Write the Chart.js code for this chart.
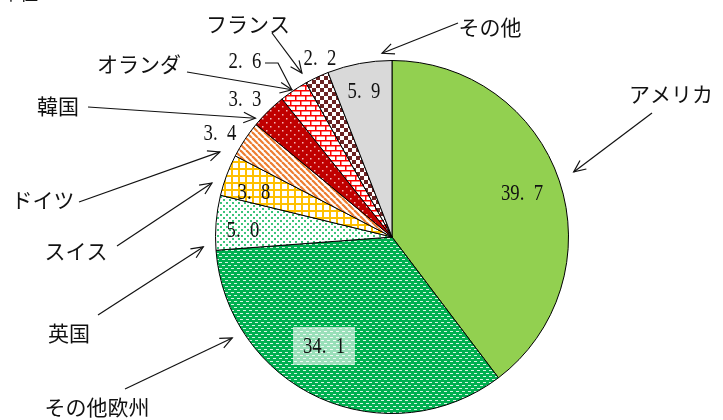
<!DOCTYPE html>
<html lang="ja">
<head>
<meta charset="utf-8">
<script src="https://cdn.jsdelivr.net/npm/chart.js@4/dist/chart.umd.min.js"></script>
<style>
  html, body { margin: 0; padding: 0; background: #fff; }
  canvas { display: block; }
</style>
</head>
<body>
<canvas id="grafico" width="723" height="420"></canvas>
<script>
// データ（％）
const categorias = ["アメリカ", "その他欧州", "英国", "スイス", "ドイツ", "韓国", "オランダ", "フランス", "その他"];
const valores = [39.7, 34.1, 5.0, 3.8, 3.4, 3.3, 2.6, 2.2, 5.9];
const unidad = "単位：％";

// ラベル配置（円の中心からの位置）
const posValor = [[130, -44], [-68, 109], [-149, -7], [-138, -45], [-172, -104], [-147, -138], [-147, -176], [-72, -179], [-28, -146]];
const posNombre = [[671, 94], [97, 407], [69, 333], [76, 251], [43, 200], [58, 106], [139, 64], [248, 24], [490, 27]];
const colaFlecha = [[652, 113], [125, 389], [98, 315], [117, 246], [79, 202], [88, 107], [187, 72], [272, 33], [458, 23]];
// 矢印の先（角度°, 中心からの距離）
const puntaFlecha = [[-19.7, 193], [147.7, 189], [177, 189], [196.7, 188], [206.3, 192], [221, 181], [235.8, 178], [241.2, 187], [266.9, 184]];

function tile(w, h, dibujar) {
  const c = document.createElement("canvas");
  c.width = w; c.height = h;
  const ctx = c.getContext("2d");
  dibujar(ctx);
  return document.getElementById("grafico").getContext("2d").createPattern(c, "repeat");
}

const patrones = [
  "#92D050",
  tile(6, 6, ctx => { // verde con guiones
    ctx.fillStyle = "#00B050"; ctx.fillRect(0, 0, 6, 6);
    ctx.fillStyle = "rgba(255,255,255,0.85)";
    ctx.fillRect(0, 1, 3, 1); ctx.fillRect(3, 4, 3, 1);
  }),
  tile(6, 6, ctx => { // puntos verdes
    ctx.fillStyle = "#fff"; ctx.fillRect(0, 0, 6, 6);
    ctx.fillStyle = "#3CC47A";
    ctx.fillRect(1, 1, 2, 2); ctx.fillRect(4, 4, 2, 2);
  }),
  tile(7, 7, ctx => { // cuadrícula amarilla
    ctx.fillStyle = "#fff"; ctx.fillRect(0, 0, 7, 7);
    ctx.fillStyle = "#FFC000";
    ctx.fillRect(0, 0, 7, 2); ctx.fillRect(0, 0, 2, 7);
  }),
  tile(6, 6, ctx => { // rayas naranjas
    ctx.fillStyle = "#fff"; ctx.fillRect(0, 0, 6, 6);
    ctx.strokeStyle = "#ED7D31"; ctx.lineWidth = 2.2;
    for (let k = -6; k <= 12; k += 6) {
      ctx.beginPath(); ctx.moveTo(k, 0); ctx.lineTo(k + 6, 6); ctx.stroke();
    }
  }),
  tile(8, 8, ctx => { // rojo con puntos
    ctx.fillStyle = "#C00000"; ctx.fillRect(0, 0, 8, 8);
    ctx.fillStyle = "#F4B8B8";
    ctx.fillRect(2, 2, 1.5, 1.5); ctx.fillRect(6, 6, 1.5, 1.5);
  }),
  tile(10, 10, ctx => { // ladrillos
    ctx.fillStyle = "#fff"; ctx.fillRect(0, 0, 10, 10);
    ctx.fillStyle = "#FF0000";
    ctx.fillRect(0, 0, 10, 1.5); ctx.fillRect(0, 5, 10, 1.5);
    ctx.fillRect(0, 0, 1.5, 5); ctx.fillRect(5, 5, 1.5, 5);
  }),
  tile(8, 8, ctx => { // cuadros marrones
    ctx.fillStyle = "#fff"; ctx.fillRect(0, 0, 8, 8);
    ctx.fillStyle = "#6A2323";
    ctx.fillRect(0, 0, 4, 4); ctx.fillRect(4, 4, 4, 4);
  }),
  "#D9D9D9"
];

// 明朝風の数字（縦長）: 39.7 -> "39. 7"
function formato(v) {
  return v.toFixed(1).replace(".", ".\u2002");
}

function flecha(ctx, x0, y0, x1, y1) {
  ctx.beginPath(); ctx.moveTo(x0, y0); ctx.lineTo(x1, y1); ctx.stroke();
  const a = Math.atan2(y1 - y0, x1 - x0);
  const L = 13, ab = 0.42;
  ctx.beginPath();
  ctx.moveTo(x1 - L * Math.cos(a - ab), y1 - L * Math.sin(a - ab));
  ctx.lineTo(x1, y1);
  ctx.lineTo(x1 - L * Math.cos(a + ab), y1 - L * Math.sin(a + ab));
  ctx.stroke();
}

const etiquetas = {
  id: "etiquetas",
  afterDatasetsDraw(chart) {
    const ctx = chart.ctx;
    const arcs = chart.getDatasetMeta(0).data;
    const cx = arcs[0].x, cy = arcs[0].y;
    ctx.save();
    ctx.textAlign = "center";
    ctx.textBaseline = "middle";

    // valores
    ctx.font = '24px "Liberation Serif", serif';
    valores.forEach((v, i) => {
      const x = cx + posValor[i][0], y = cy + posValor[i][1];
      if (i === 1) {
        ctx.fillStyle = "rgba(255,255,255,0.6)";
        ctx.fillRect(x - 31, y - 19, 62, 38);
      }
      ctx.fillStyle = "#111";
      ctx.save();
      ctx.translate(x, y + 1);
      ctx.scale(0.78, 1);
      ctx.fillText(formato(v), 0, 0);
      ctx.restore();
    });

    // nombres y flechas
    ctx.strokeStyle = "#111";
    ctx.lineWidth = 1.2;
    ctx.font = '21px "Noto Sans CJK JP", sans-serif';
    categorias.forEach((c, i) => {
      ctx.fillStyle = "#111";
      ctx.fillText(c, posNombre[i][0], posNombre[i][1]);
      const ang = puntaFlecha[i][0] * Math.PI / 180;
      const tx = cx + puntaFlecha[i][1] * Math.cos(ang);
      const ty = cy + puntaFlecha[i][1] * Math.sin(ang);
      flecha(ctx, colaFlecha[i][0], colaFlecha[i][1], tx, ty);
    });

    // línea guía de 2.6
    const a26 = cx + posValor[6][0], b26 = cy + posValor[6][1];
    ctx.beginPath();
    ctx.moveTo(a26 + 20, b26 + 2);
    ctx.lineTo(a26 + 33, b26 + 2);
    ctx.lineTo(a26 + 47, b26 + 29);
    ctx.stroke();

    // unidad (cortada arriba)
    ctx.textAlign = "left";
    ctx.textBaseline = "alphabetic";
    ctx.font = '18px "Noto Sans CJK JP", sans-serif';
    ctx.fillText(unidad, 2, 0);
    ctx.restore();
  }
};

new Chart(document.getElementById("grafico"), {
  type: "pie",
  data: {
    labels: categorias,
    datasets: [{
      data: valores,
      backgroundColor: patrones,
      borderColor: "#000",
      borderWidth: 1
    }]
  },
  options: {
    responsive: false,
    animation: false,
    layout: { padding: { left: 215, right: 154, top: 60, bottom: 6 } },
    plugins: {
      legend: { display: false },
      tooltip: { enabled: false }
    }
  },
  plugins: [etiquetas]
});
</script>
</body>
</html>
